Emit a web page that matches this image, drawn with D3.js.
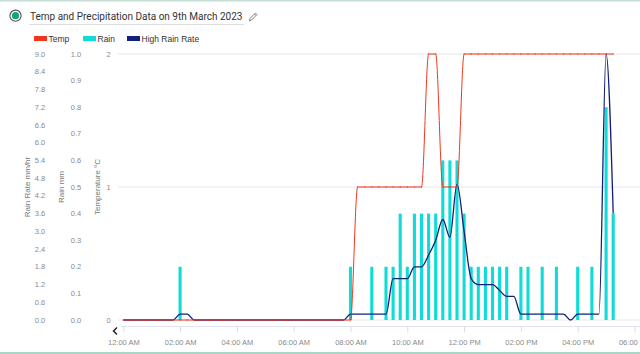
<!DOCTYPE html>
<html>
<head>
<meta charset="utf-8">
<script src="https://cdn.jsdelivr.net/npm/d3@7"></script>
<style>
  html, body { margin: 0; padding: 0; background: #fff; }
  svg { display: block; }
</style>
</head>
<body>
<svg id="chart" width="640" height="354"></svg>
<script>
// ---- Data ----
const times = [
  "00:00","00:15","00:30","00:45","01:00","01:15","01:30","01:45",
  "02:00","02:15","02:30","02:45","03:00","03:15","03:30","03:45",
  "04:00","04:15","04:30","04:45","05:00","05:15","05:30","05:45",
  "06:00","06:15","06:30","06:45","07:00","07:15","07:30","07:45",
  "08:00","08:15","08:30","08:45","09:00","09:15","09:30","09:45",
  "10:00","10:15","10:30","10:45","11:00","11:15","11:30","11:45",
  "12:00","12:15","12:30","12:45","13:00","13:15","13:30","13:45",
  "14:00","14:15","14:30","14:45","15:00","15:15","15:30","15:45",
  "16:00","16:15","16:30","16:45","17:00","17:15"
];
const temp = [
  0,0,0,0,0,0,0,0,
  0,0,0,0,0,0,0,0,
  0,0,0,0,0,0,0,0,
  0,0,0,0,0,0,0,0,
  0,1,1,1,1,1,1,1,
  1,1,1,2,2,1,1,1,
  2,2,2,2,2,2,2,2,
  2,2,2,2,2,2,2,2,
  2,2,2,2,2,2
];
const rain = [
  0,0,0,0,0,0,0,0,
  0.2,0,0,0,0,0,0,0,
  0,0,0,0,0,0,0,0,
  0,0,0,0,0,0,0,0,
  0.2,0,0,0.2,0,0.2,0.2,0.4,
  0.2,0.4,0.4,0.4,0.4,0.6,0.6,0.6,
  0.4,0.2,0.2,0.2,0.2,0.2,0.2,0,
  0.2,0.2,0,0.2,0,0.2,0,0,
  0.2,0,0.2,0,0.8,0.4
];
const rainRate = [
  0,0,0,0,0,0,0,0,
  0.2,0.2,0,0,0,0,0,0,
  0,0,0,0,0,0,0,0,
  0,0,0,0,0,0,0,0,
  0.2,0.2,0.2,0.2,0.2,0.2,1.4,1.4,
  1.4,1.8,1.8,2.2,2.7,3.4,2.8,4.6,
  3.0,1.4,1.2,1.2,1.2,1.0,0.8,0.8,
  0.2,0.2,0.2,0.2,0.2,0.2,0.2,0,
  0.2,0.2,0.2,0.2,9.0,3.6
];
const rateTicks = [0,0.6,1.2,1.8,2.4,3.0,3.6,4.2,4.8,5.4,6.0,6.6,7.2,7.8,8.4,9.0];
const rainTicks = [0,0.1,0.2,0.3,0.4,0.5,0.6,0.7,0.8,0.9,1.0];
const tempTicks = [0,1,2];
const seriesNames = ["Temp","Rain","High Rain Rate"];
const title = "Temp and Precipitation Data on 9th March 2023";

const C_TEMP = "#f0361e", C_RAIN = "#0fdcd8", C_RATE = "#13207a";

// ---- Setup ----
const svg = d3.select("#chart");
const parse = d3.timeParse("%Y-%m-%d %H:%M");
const dates = times.map(t => parse("2023-03-09 " + t));
const plotTop = 54, plotBottom = 320;

const x = d3.scaleTime()
  .domain([parse("2023-03-09 00:00"), parse("2023-03-09 18:00")])
  .range([123.3, 634.5]);
const yTemp = d3.scaleLinear().domain([0, 2]).range([plotBottom, plotTop]);
const yRain = d3.scaleLinear().domain([0, 1]).range([plotBottom, plotTop]);
const yRate = d3.scaleLinear().domain([0, 9]).range([plotBottom, plotTop]);

// card borders
svg.append("rect").attr("x",0).attr("y",0).attr("width",640).attr("height",1.5).attr("fill","#c4ddd5");
svg.append("rect").attr("x",0).attr("y",352).attr("width",640).attr("height",2).attr("fill","#a9d6c6");

// title icon
svg.append("circle").attr("cx",15.5).attr("cy",15.7).attr("r",5.6)
  .attr("fill","none").attr("stroke","#555").attr("stroke-width",1.1);
svg.append("circle").attr("cx",15.5).attr("cy",15.7).attr("r",3.6).attr("fill","#17a47d");

svg.append("text").attr("x",30).attr("y",19.8)
  .attr("font-family","Roboto, 'Open Sans', sans-serif").attr("font-size",10)
  .attr("fill","#333").text(title);
svg.append("line").attr("x1",29).attr("x2",244).attr("y1",24.5).attr("y2",24.5)
  .attr("stroke","#dddddd").attr("stroke-width",1);
// pencil icon
svg.append("path")
  .attr("d","M249.5,21 L250,18.5 L255.5,13 L257,14.5 L251.5,20 Z M254.5,14 L256,15.5")
  .attr("fill","none").attr("stroke","#666").attr("stroke-width",0.8);

// legend
const legendItems = [
  {name: seriesNames[0], color: C_TEMP, x: 34},
  {name: seriesNames[1], color: C_RAIN, x: 83},
  {name: seriesNames[2], color: C_RATE, x: 127}
];
const lg = svg.append("g");
legendItems.forEach(d => {
  lg.append("rect").attr("x", d.x).attr("y", 36).attr("width", 13).attr("height", 5).attr("fill", d.color);
  lg.append("text").attr("x", d.x + 14.5).attr("y", 41.5)
    .attr("font-family","'Liberation Sans', Arial, sans-serif").attr("font-size",8.5)
    .attr("fill","#333").text(d.name);
});

// gridlines (temperature ticks)
svg.append("g").selectAll("line").data(tempTicks).join("line")
  .attr("x1",118).attr("x2",640)
  .attr("y1", d => yTemp(d)).attr("y2", d => yTemp(d))
  .attr("stroke","#e8e8e8").attr("stroke-width",1);

// y axes labels
const tickFont = "'Liberation Sans', Arial, sans-serif";
function yLabels(ticks, scale, cx, fmt) {
  svg.append("g").selectAll("text").data(ticks).join("text")
    .attr("x", cx).attr("y", d => scale(d))
    .attr("dy","0.35em").attr("text-anchor","middle")
    .attr("font-family", tickFont).attr("font-size", 7.5).attr("fill","#8a8a8a")
    .text(fmt);
}
yLabels(rateTicks, yRate, 40, d => d.toFixed(1));
yLabels(rainTicks, yRain, 76, d => d.toFixed(1));
yLabels(tempTicks, yTemp, 108.5, d => String(d));

function yTitle(txt, cx) {
  svg.append("text").attr("transform", `translate(${cx},${(plotTop+plotBottom)/2}) rotate(-90)`)
    .attr("text-anchor","middle").attr("dy","0.35em")
    .attr("font-family", tickFont).attr("font-size", 8).attr("fill","#777").text(txt);
}
yTitle("Rain Rate mm/hr", 27);
yTitle("Rain mm", 61.5);
yTitle("Temperature °C", 97.5);

// x axis
svg.append("line").attr("x1",121).attr("x2",640).attr("y1",326.5).attr("y2",326.5)
  .attr("stroke","#dfe4ee").attr("stroke-width",1);
const xAxis = d3.axisBottom(x).ticks(d3.timeHour.every(2))
  .tickFormat(d3.timeFormat("%I:%M %p")).tickSize(6).tickSizeOuter(0).tickPadding(7);
const gx = svg.append("g").attr("transform","translate(0,326.5)").call(xAxis);
gx.select(".domain").remove();
gx.selectAll(".tick line").attr("stroke","#d7dde9");
gx.selectAll(".tick text").attr("font-family", tickFont).attr("font-size", 7.5).attr("fill","#8a8a8a");

// chevron
svg.append("path").attr("d","M117,327.5 L113.5,331 L117,334.5")
  .attr("fill","none").attr("stroke","#222").attr("stroke-width",1.5);

// bars (rain)
const bw = 3.1;
svg.append("g").selectAll("rect").data(rain.map((v,i)=>({v, d: dates[i]})).filter(o => o.v > 0)).join("rect")
  .attr("x", o => x(o.d) - bw/2).attr("width", bw)
  .attr("y", o => yRain(o.v)).attr("height", o => plotBottom - yRain(o.v))
  .attr("fill", C_RAIN);

// rain rate line
const rateLine = d3.line().x((v,i)=>x(dates[i])).y(v=>yRate(v)).curve(d3.curveMonotoneX);
svg.append("path").datum(rainRate).attr("d", rateLine)
  .attr("fill","none").attr("stroke", C_RATE).attr("stroke-width",1.3);

// temp line
const tempLine = d3.line().x((v,i)=>x(dates[i])).y(v=>yTemp(v)).curve(d3.curveMonotoneX);
svg.append("path").datum(temp).attr("d", tempLine)
  .attr("fill","none").attr("stroke", C_TEMP).attr("stroke-width",1);
svg.append("g").selectAll("line").data(temp).join("line")
  .attr("x1",(v,i)=>x(dates[i])).attr("x2",(v,i)=>x(dates[i]))
  .attr("y1",v=>yTemp(v)-1).attr("y2",v=>yTemp(v)+1)
  .attr("stroke", C_TEMP).attr("stroke-width",0.8).attr("opacity",0.8);
</script>
</body>
</html>
